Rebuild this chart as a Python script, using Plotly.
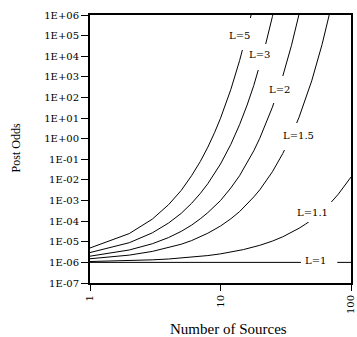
import plotly.graph_objects as go

# Posterior odds versus the number of independent sources, one curve per likelihood ratio L
sources_l5 = [1, 2, 3, 4, 5, 6, 7, 8, 9, 10, 12, 14, 16, 18]
odds_l5 = [5e-6, 2.5e-5, 1.25e-4, 6.3e-4, 3.1e-3, 1.6e-2, 7.8e-2, 0.39, 1.95, 9.8, 244, 6100, 1.5e5, 3.8e6]

sources_l3 = [1, 2, 3, 4, 5, 6, 7, 8, 10, 12, 14, 16, 18, 20, 22, 25, 28]
odds_l3 = [3e-6, 9e-6, 2.7e-5, 8.1e-5, 2.4e-4, 7.3e-4, 2.2e-3, 6.6e-3, 5.9e-2, 0.53, 4.8, 43, 387, 3490, 3.1e4, 8.5e5, 2.3e7]

sources_l2 = [1, 2, 3, 4, 5, 6, 7, 8, 10, 12, 14, 16, 18, 20, 25, 30, 35, 40, 45]
odds_l2 = [2e-6, 4e-6, 8e-6, 1.6e-5, 3.2e-5, 6.4e-5, 1.3e-4, 2.6e-4, 1.0e-3, 4.1e-3, 1.6e-2, 6.6e-2, 0.26, 1.05, 34, 1070, 3.4e4, 1.1e6, 3.5e7]

sources_l15 = [1, 2, 3, 4, 5, 6, 7, 8, 10, 12, 14, 16, 18, 20, 25, 30, 35, 40, 45, 50, 60, 70]
odds_l15 = [1.5e-6, 2.25e-6, 3.4e-6, 5.1e-6, 7.6e-6, 1.14e-5, 1.7e-5, 2.6e-5, 5.8e-5, 1.3e-4, 2.9e-4, 6.6e-4, 1.5e-3, 3.3e-3, 2.5e-2, 0.19, 1.46, 11, 84, 640, 3.7e4, 2.1e6]

sources_l11 = [1, 2, 3, 4, 5, 6, 8, 10, 12, 15, 20, 25, 30, 35, 40, 45, 50, 60, 70, 80, 90, 100]
odds_l11 = [1.1e-6, 1.21e-6, 1.33e-6, 1.46e-6, 1.61e-6, 1.77e-6, 2.14e-6, 2.59e-6, 3.14e-6, 4.18e-6, 6.73e-6, 1.08e-5, 1.74e-5, 2.81e-5, 4.53e-5, 7.29e-5, 1.17e-4, 3.04e-4, 7.9e-4, 2.05e-3, 5.31e-3, 1.38e-2]

sources_l1 = [1, 100]
odds_l1 = [1e-6, 1e-6]

curve_names = ["L=5", "L=3", "L=2", "L=1.5", "L=1.1", "L=1"]
curve_sources = [sources_l5, sources_l3, sources_l2, sources_l15, sources_l11, sources_l1]
curve_odds = [odds_l5, odds_l3, odds_l2, odds_l15, odds_l11, odds_l1]

x_tick_values = [1, 10, 100]
x_tick_labels = ["1", "10", "100"]
y_tick_values = [1e-7, 1e-6, 1e-5, 1e-4, 1e-3, 1e-2, 1e-1, 1e0, 1e1, 1e2, 1e3, 1e4, 1e5, 1e6]
y_tick_labels = ["1E-07", "1E-06", "1E-05", "1E-04", "1E-03", "1E-02", "1E-01",
                 "1E+00", "1E+01", "1E+02", "1E+03", "1E+04", "1E+05", "1E+06"]

# plot box in pixels
LEFT, TOP, WIDTH, HEIGHT = 90, 15, 266, 268
BOTTOM = TOP + HEIGHT


def px(x):
    return (x - LEFT) / WIDTH


def py(y):
    return (BOTTOM - y) / HEIGHT


fig = go.Figure()
for name, xs, ys in zip(curve_names, curve_sources, curve_odds):
    fig.add_trace(go.Scatter(x=xs, y=ys, mode="lines", name=name,
                             line=dict(color="black", width=1), showlegend=False))

# white cut-outs in the curves where the labels sit: (x0, x1, y0, y1, text x, text y)
label_boxes = [
    (230, 256, 18, 50, 242, 35),
    (251, 275, 44, 70, 263, 54),
    (271, 295, 76, 103, 283, 89),
    (286, 320, 123, 150, 303, 135),
    (301, 341, 202, 222, 317, 212),
    (305, 342, 254, 267, 320, 260),
]
label_font = dict(family="DejaVu Serif", size=10, color="black")
for name, (x0, x1, y0, y1, tx, ty) in zip(curve_names, label_boxes):
    fig.add_shape(type="rect", xref="paper", yref="paper",
                  x0=px(x0), x1=px(x1), y0=py(y1), y1=py(y0),
                  fillcolor="white", line=dict(width=0), layer="above")
    fig.add_annotation(xref="paper", yref="paper", x=px(tx), y=py(ty),
                       text=name, showarrow=False, font=label_font,
                       xanchor="center", yanchor="middle")

fig.add_annotation(xref="paper", yref="paper", x=px(231), y=py(329),
                   text="Number of Sources", showarrow=False,
                   font=dict(family="Liberation Serif", size=15, color="black"),
                   xanchor="center", yanchor="middle")
fig.add_annotation(xref="paper", yref="paper", x=px(15), y=py(148),
                   text="Post Odds", showarrow=False, textangle=-90,
                   font=dict(family="Liberation Serif", size=12, color="black"),
                   xanchor="center", yanchor="middle")

tick_font = dict(family="DejaVu Serif", size=10, color="black")
fig.update_xaxes(type="log", range=[0, 2], tickvals=x_tick_values, ticktext=x_tick_labels,
                 tickangle=-90, ticks="outside", ticklen=6, tickwidth=1, tickcolor="black",
                 ticklabeloverflow="allow",
                 showline=True, linecolor="black", linewidth=2, mirror=True,
                 showgrid=False, zeroline=False, tickfont=tick_font)
fig.update_yaxes(type="log", range=[-7, 6], tickvals=y_tick_values, ticktext=y_tick_labels,
                 ticks="outside", ticklen=7, tickwidth=1, tickcolor="black",
                 showline=True, linecolor="black", linewidth=2, mirror=True,
                 showgrid=False, zeroline=False, tickfont=tick_font)

fig.update_layout(width=357, height=337,
                  margin=dict(l=LEFT, r=357 - LEFT - WIDTH, t=TOP, b=337 - BOTTOM, pad=0),
                  paper_bgcolor="white", plot_bgcolor="white")

fig.write_html("out.html")
